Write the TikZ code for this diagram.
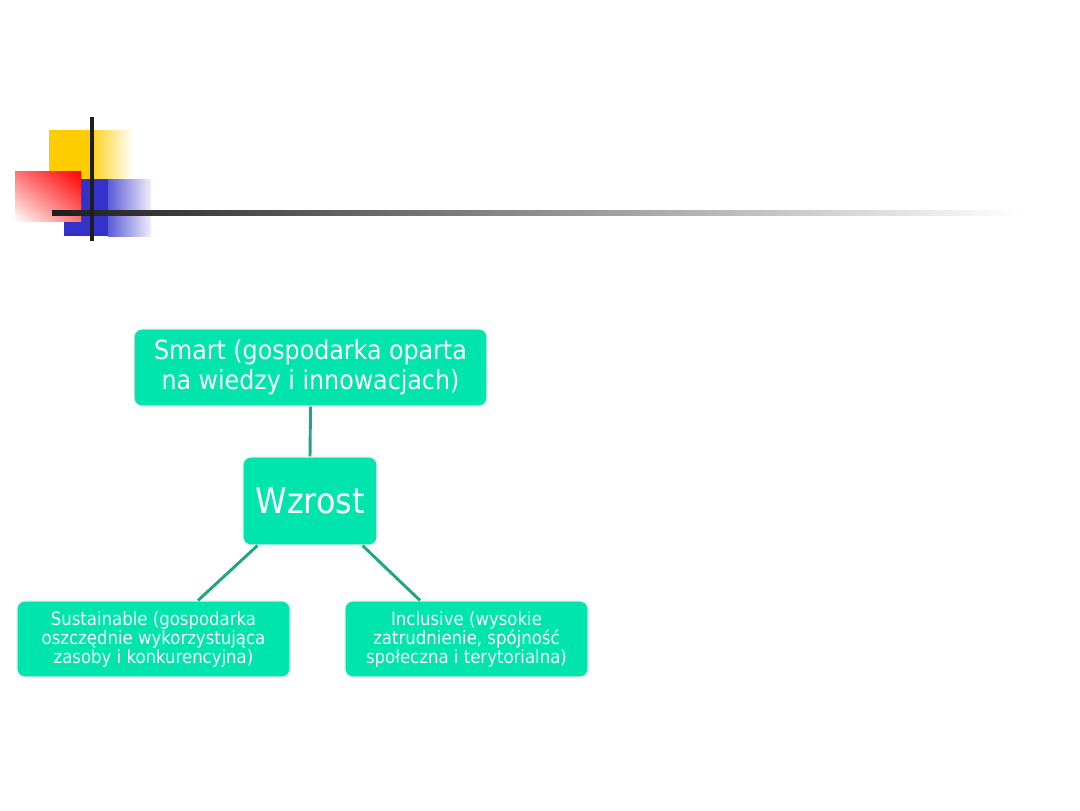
\documentclass[tikz,border=0pt]{standalone}
\usepackage{fontspec}
\setmainfont{DejaVu Sans Condensed}
\usetikzlibrary{calc,shadings}
\definecolor{mint}{RGB}{0,229,174}
\definecolor{link}{RGB}{32,166,128}
\definecolor{yel}{RGB}{255,204,0}
\definecolor{blu}{RGB}{51,51,204}
\definecolor{redd}{RGB}{255,0,0}
\definecolor{bar}{RGB}{30,30,30}
\tikzset{
  box/.style={rounded corners=6pt, fill=mint, draw=black!8, line width=0.8pt, text=white, align=center, inner sep=0pt},
  link/.style={draw=link, line width=2.2pt}
}
\begin{document}
\begin{tikzpicture}[x=0.75pt,y=-0.75pt]
\useasboundingbox (0,0) rectangle (1080,810);
% decoration
\fill[yel] (49,130) rectangle (93,179);
\shade[left color=yel!85!white, right color=white] (93,130) rectangle (133,179);
\fill[blu] (64,179) rectangle (108,236);
\shade[left color=blu!80!white, right color=blu!8!white] (108,179) rectangle (151,236);
\shade[upper right=redd, lower left=white, upper left=redd!55!white, lower right=redd!55!white] (15,171) rectangle (81,221);
\shade[left color=bar, right color=white] (52,210) rectangle (1022,215);
\fill[bar] (90,117) rectangle (94,241);
% nodes
\node[box, minimum width=264.75pt, minimum height=57.75pt, font=\fontsize{19.8}{22.5}\selectfont] (smart) at (310.5,367.5) {Smart (gospodarka oparta\\na wiedzy i innowacjach)};
\node[box, minimum width=100.5pt, minimum height=66pt, font=\fontsize{26.5}{32}\selectfont] (wz) at (310,501) {Wzrost};
\node[box, minimum width=204.75pt, minimum height=57pt, font=\fontsize{13.8}{14.25}\selectfont] (sus) at (153.5,639) {Sustainable (gospodarka\\oszczędnie wykorzystująca\\zasoby i konkurencyjna)};
\node[box, minimum width=182.25pt, minimum height=57pt, font=\fontsize{13.8}{14.25}\selectfont] (inc) at (466.5,639) {Inclusive (wysokie\\zatrudnienie, spójność\\społeczna i terytorialna)};
% connectors
\draw[link] (smart.south) -- (wz.north);
\draw[link] ($(wz.south west)+(15,0)$) -- ($(sus.north)+(44.5,0)$);
\draw[link] ($(wz.south east)+(-15,0)$) -- ($(inc.north)+(-46.5,0)$);
\end{tikzpicture}
\end{document}
